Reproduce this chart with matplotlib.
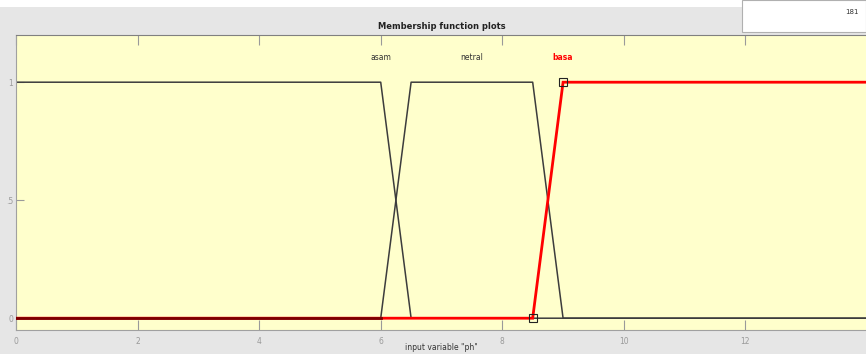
import matplotlib
matplotlib.use("Agg")
import matplotlib.pyplot as plt
from matplotlib.patches import Rectangle

# membership functions of input "ph" (trapezoids)
mf_names = ["asam", "netral", "basa"]
mf_params = [
    [0, 0, 6, 6.5],
    [6, 6.5, 8.5, 9],
    [8.5, 9, 14, 14],
]
mf_label_x = [6, 7.5, 9]
x_range = [0, 14]
x_ticks = [0, 2, 4, 6, 8, 10, 12]
y_ticks = [0, 0.5, 1]
y_ticklabels = ["0", ".5", "1"]

BG = "#e6e6e6"
AX_BG = "#ffffcc"
LINE = "#3c3c3c"
TICK_GRAY = "#9a9a9a"

fig = plt.figure(figsize=(8.66, 3.54), dpi=100, facecolor=BG)

# white strip on top and white box upper right
fig.patches.append(Rectangle((0, 1 - 7 / 354), 1, 7 / 354, transform=fig.transFigure,
                             facecolor="white", edgecolor="none", zorder=0))
fig.patches.append(Rectangle((742 / 866, 1 - 32 / 354), 124 / 866, 32 / 354,
                             transform=fig.transFigure, facecolor="white",
                             edgecolor="#b0b0b0", linewidth=0.8, zorder=1))
fig.text(859 / 866, 1 - 12 / 354, "181", fontsize=5, color="#333333", ha="right", va="center")

ax = fig.add_axes([16 / 866, 1 - 330 / 354, 851 / 866, 295 / 354], facecolor=AX_BG)


def trap_pts(p):
    a, b, c, d = p
    xs = [x_range[0], a, b, c, d, x_range[1]]
    ys = [0, 0, 1, 1, 0, 0]
    if a == x_range[0] and b == x_range[0]:
        xs, ys = [a, c, d, x_range[1]], [1, 1, 0, 0]
    elif c == x_range[1] and d == x_range[1]:
        xs, ys = [x_range[0], a, b, c], [0, 0, 1, 1]
    return xs, ys


for i, name in enumerate(mf_names):
    xs, ys = trap_pts(mf_params[i])
    if name == "basa":
        ax.plot(xs, ys, color="red", linewidth=2.0, zorder=3, solid_joinstyle="miter")
        a, b = mf_params[i][0], mf_params[i][1]
        ax.plot([a, b], [0, 1], linestyle="none", marker="s", markersize=6,
                markerfacecolor="none", markeredgecolor="#222222", markeredgewidth=0.8, zorder=5)
    else:
        ax.plot(xs, ys, color=LINE, linewidth=1.1, zorder=2)

# dark overlap where the red line lies with the black one (0..6)
ax.plot([x_range[0], mf_params[1][0]], [0, 0], color="#7a0000", linewidth=2.0, zorder=4)

for name, lx in zip(mf_names, mf_label_x):
    if name == "basa":
        ax.text(lx, 1.105, name, color="red", fontsize=5.5, fontweight="bold", ha="center", va="center")
    else:
        ax.text(lx, 1.105, name, color="#333333", fontsize=5.5, ha="center", va="center")

ax.set_xlim(x_range)
ax.set_ylim(-0.05, 1.2)
ax.set_xticks(x_ticks)
ax.set_xticklabels([str(t) for t in x_ticks])
ax.set_yticks(y_ticks)
ax.set_yticklabels(y_ticklabels)
ax.tick_params(axis="x", direction="in", top=True, length=7, width=0.8, color=TICK_GRAY,
               labelsize=5.5, labelcolor=TICK_GRAY, pad=5)
ax.tick_params(axis="y", direction="in", length=5.5, width=0.8, color=TICK_GRAY,
               labelsize=5.5, labelcolor=TICK_GRAY, pad=2)
for s in ["left", "bottom", "right"]:
    ax.spines[s].set_color("#a0a0a0")
    ax.spines[s].set_linewidth(0.8)
ax.spines["top"].set_color("#808080")
ax.spines["top"].set_linewidth(0.8)

ax.set_title("Membership function plots", fontsize=6, fontweight="bold", color="#222222", pad=4)
fig.text(ax.get_position().x0 + ax.get_position().width / 2, 1.5 / 354, 'input variable "ph"',
         fontsize=5.5, color="#333333", ha="center", va="bottom")

fig.savefig("out.png", dpi=100, facecolor=BG)
